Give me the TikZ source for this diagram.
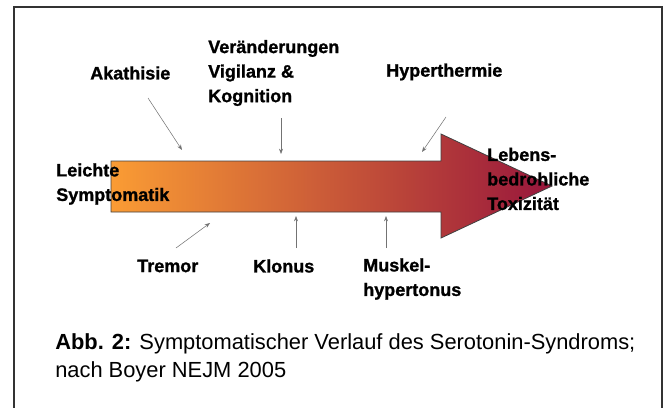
\documentclass[tikz,border=0pt]{standalone}
\usepackage{fontspec}
\setmainfont{Liberation Sans}
\newfontfamily\heavyfont{Liberation Sans}[BoldFeatures={FakeBold=1.2}]
\usepackage{xcolor}
\usetikzlibrary{arrows.meta, positioning}
\definecolor{orangeL}{RGB}{250,156,52}
\definecolor{orangeM}{RGB}{233,133,56}
\definecolor{redR}{RGB}{152,22,60}
\begin{document}
\begin{tikzpicture}[
		x={(0.75pt,0)}, y={(0,-0.75pt)},
		lbl/.style={anchor=west, inner sep=0pt, align=left, font=\fontsize{13.5}{18.4}\selectfont\heavyfont\bfseries},
		pin/.style={-{Stealth[length=4pt, width=3pt]}, draw=black!55, line width=0.4pt},
		bigarrow/.style={draw=black!75, line width=0.6pt, left color=orangeL, middle color=orangeM, right color=redR}
	]
	\useasboundingbox (0,0) rectangle (666,407);
	\draw[black!80, line width=1.1pt] (14,7) rectangle (662,430);
	\draw[bigarrow] (111,161) -- (441,161) -- (441,134) -- (552,186) -- (441,238) -- (441,212) -- (111,212) -- cycle;
	\node[lbl] (leicht) at (56,184) {Leichte\\Symptomatik};
	\node[lbl] (toxi) at (487,179) {Lebens-\\bedrohliche\\Toxizität};
	\node[lbl] (akath) at (90,73) {Akathisie};
	\node[lbl] (vigil) at (208,73) {Veränderungen\\Vigilanz \&\\Kognition};
	\node[lbl] (hyper) at (386,72) {Hyperthermie};
	\node[lbl] (tremor) at (137,266) {Tremor};
	\node[lbl] (klonus) at (253,266) {Klonus};
	\node[lbl] (muskel) at (363,279) {Muskel-\\hypertonus};
	\coordinate (akathA) at (148,98);  \coordinate (akathB) at (182,150);
	\coordinate (vigilA) at (281,118); \coordinate (vigilB) at (281,154);
	\coordinate (hyperA) at (446,117); \coordinate (hyperB) at (422,152);
	\coordinate (tremorA) at (176,248); \coordinate (tremorB) at (210,223);
	\coordinate (klonusA) at (296,248); \coordinate (klonusB) at (296,216);
	\coordinate (muskelA) at (386,248); \coordinate (muskelB) at (386,216);
	\draw[pin] (akathA) -- (akathB); \draw[pin] (vigilA) -- (vigilB); \draw[pin] (hyperA) -- (hyperB);
	\draw[pin] (tremorA) -- (tremorB); \draw[pin] (klonusA) -- (klonusB); \draw[pin] (muskelA) -- (muskelB);
	\node[anchor=west, inner sep=0pt, align=left, font=\fontsize{16.4}{21}\selectfont] (caption) at (55,358)
	{\textbf{Abb. 2:} Symptomatischer Verlauf des Serotonin-Syndroms;\\nach Boyer NEJM 2005};
\end{tikzpicture}
\end{document}
